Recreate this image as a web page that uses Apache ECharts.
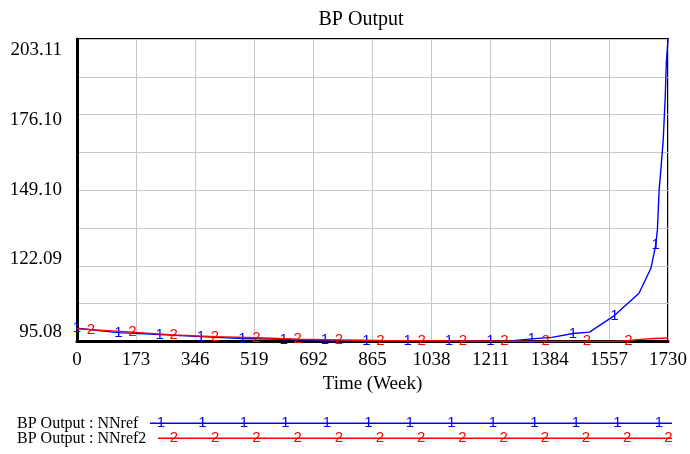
<!DOCTYPE html>
<html><head><meta charset="utf-8">
<script src="https://cdn.jsdelivr.net/npm/echarts@6/dist/echarts.min.js"></script>
<style>html,body{margin:0;padding:0;background:#fff}#c{width:690px;height:454px}</style>
</head><body><div id="c"></div>
<script>
// ---- data ----
const chartTitle = 'BP Output';
const xName = 'Time (Week)';
const xMin = 0, xMax = 1730, xStep = 173;
const yTicks = [95.08, 108.58, 122.09, 135.59, 149.10, 162.60, 176.10, 189.61, 203.11];
const yLabels = ['95.08', '122.09', '149.10', '176.10', '203.11'];
const seriesNames = ['BP Output : NNref', 'BP Output : NNref2'];
const seriesMarks = ['1', '2'];

const nnrefT = [0, 121, 242, 363, 484, 605, 726, 847, 968, 1089, 1210, 1270, 1331, 1390, 1452, 1500, 1573, 1645, 1680, 1694, 1699, 1704, 1709, 1716, 1722, 1725, 1730];
const nnrefV = [99.8, 98.2, 97.5, 96.8, 96.1, 95.8, 95.5, 95.3, 95.2, 95.15, 95.15, 95.2, 96.0, 96.5, 97.9, 98.4, 104.3, 112.3, 121.2, 129.5, 134.9, 149.2, 156.3, 167.0, 182.5, 194.4, 203.11];
const nnrefMarkT = [0, 121, 242, 363, 484, 605, 726, 847, 968, 1089, 1210, 1331, 1452, 1573, 1694];

const nnref2T = [0, 41, 162, 283, 404, 525, 646, 767, 888, 1009, 1130, 1251, 1372, 1493, 1560, 1600, 1614, 1640, 1690, 1730];
const nnref2V = [99.6, 99.3, 98.4, 97.4, 96.8, 96.4, 95.9, 95.6, 95.4, 95.3, 95.2, 95.15, 95.1, 95.1, 95.1, 95.2, 95.3, 95.7, 96.1, 96.3];
const nnref2MarkT = [41, 162, 283, 404, 525, 646, 767, 888, 1009, 1130, 1251, 1372, 1493, 1614];

// ---- styling ----
const colors = ['#0000ff', '#ff0000'];
const serif = 'Liberation Serif';
const sans = 'Liberation Sans';
const yLabelValues = yLabels.map(Number);
const yLabelPad = [[0,0,19,0],[0,0,13,0],[0,0,0,0],[11,0,0,0],[23,0,0,0]];
const rich = {};
yLabelPad.forEach((p, i) => { rich['a' + i] = { padding: p, fontFamily: serif, fontSize: 19, color: '#000' }; });

function mkData(T, V, marks) {
  return T.map((t, i) => ({ value: [t, V[i]], label: { show: marks.includes(t) } }));
}
function lineSeries(idx, data) {
  return {
    type: 'line', name: seriesNames[idx], data: data, xAxisIndex: 0, yAxisIndex: 0,
    showSymbol: true, showAllSymbol: true, symbol: 'circle', symbolSize: 1,
    itemStyle: { color: 'rgba(0,0,0,0)' },
    lineStyle: { color: colors[idx], width: 1.4 },
    label: { show: false, position: 'inside', formatter: seriesMarks[idx], color: colors[idx], fontFamily: sans, fontSize: 15 },
    labelLayout: { hideOverlap: false },
    animation: false, silent: true, z: 3 + idx
  };
}
// legend sample lines (layout only)
const legW = 522;
function legendSeries(idx, start, first, step, count) {
  const d = [{ value: [start, seriesNames[idx]], label: { show: false } }];
  for (let k = 0; k < count; k++) d.push({ value: [first + k * step, seriesNames[idx]], label: { show: true } });
  d.push({ value: [legW, seriesNames[idx]], label: { show: false } });
  return {
    type: 'line', data: d, xAxisIndex: 1, yAxisIndex: 1,
    showSymbol: true, showAllSymbol: true, symbol: 'circle', symbolSize: 1,
    itemStyle: { color: 'rgba(0,0,0,0)' },
    lineStyle: { color: colors[idx], width: 1.4 },
    label: { show: false, position: 'inside', formatter: seriesMarks[idx], color: colors[idx], fontFamily: sans, fontSize: 15 },
    labelLayout: { hideOverlap: false },
    animation: false, silent: true
  };
}

const chart = echarts.init(document.getElementById('c'));
chart.setOption({
  animation: false,
  backgroundColor: '#fff',
  title: { text: chartTitle, left: 356, top: 5, textAlign: 'center',
    textStyle: { fontFamily: serif, fontSize: 20, fontWeight: 'normal', color: '#000' } },
  grid: [
    { left: 77, right: 21, top: 39, bottom: 112.6, show: true, borderColor: '#000', borderWidth: 2 },
    { left: 150, right: 18, top: 415.8, height: 30 }
  ],
  xAxis: [
    { type: 'value', gridIndex: 0, min: xMin, max: xMax, interval: xStep,
      axisLine: { show: true, lineStyle: { color: '#000', width: 3 } },
      axisTick: { show: false },
      axisLabel: { color: '#000', fontFamily: serif, fontSize: 19, margin: 9, showMinLabel: true, showMaxLabel: true,
        formatter: v => String(v) },
      splitLine: { show: true, lineStyle: { color: '#c8c8c8', width: 1 } },
      name: xName, nameLocation: 'middle', nameGap: 31,
      nameTextStyle: { color: '#000', fontFamily: serif, fontSize: 19 } },
    { type: 'value', gridIndex: 1, min: 0, max: legW, show: false }
  ],
  yAxis: [
    { type: 'value', gridIndex: 0, min: yTicks[0], max: yTicks[yTicks.length - 1],
      axisLine: { show: true, lineStyle: { color: '#000', width: 3 } },
      axisTick: { show: false, customValues: yTicks },
      splitLine: { show: true, lineStyle: { color: '#c8c8c8', width: 1 } },
      axisLabel: { customValues: yLabelValues, margin: 15, color: '#000', fontFamily: serif, fontSize: 19,
        formatter: function (v) {
          const i = yLabelValues.findIndex(x => Math.abs(x - v) < 1e-6);
          return i < 0 ? '' : '{a' + i + '|' + yLabels[i] + '}';
        }, rich: rich } },
    { type: 'category', gridIndex: 1, data: seriesNames, inverse: true,
      axisLine: { show: false }, axisTick: { show: false }, splitLine: { show: false },
      axisLabel: { interval: 0, align: 'left', margin: 133, color: '#000', fontFamily: serif, fontSize: 16 } }
  ],
  series: [
    lineSeries(0, mkData(nnrefT, nnrefV, nnrefMarkT)),
    lineSeries(1, mkData(nnref2T, nnref2V, nnref2MarkT)),
    legendSeries(0, 0, 11, 41.5, 13),
    legendSeries(1, 8, 24, 41.2, 13)
  ]
});
</script></body></html>
